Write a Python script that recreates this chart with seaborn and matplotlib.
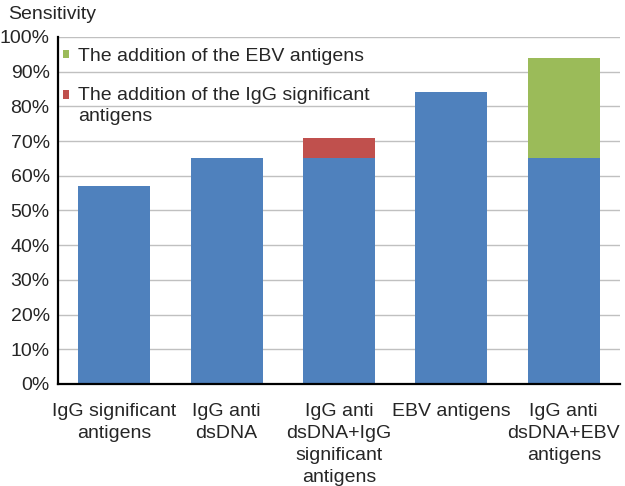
import numpy as np
import pandas as pd
import seaborn as sns
import matplotlib.pyplot as plt
from matplotlib.ticker import PercentFormatter

categories = ['IgG significant\nantigens', 'IgG anti\ndsDNA', 'IgG anti\ndsDNA+IgG\nsignificant\nantigens',
              'EBV antigens', 'IgG anti\ndsDNA+EBV\nantigens']
base_values = [57, 65, 65, 84, 65]
igg_addition = [0, 0, 6, 0, 0]
ebv_addition = [0, 0, 0, 0, 29]
ebv_label = 'The addition of the EBV antigens'
igg_label = 'The addition of the IgG significant\nantigens'

sns.set_style('white')
plt.rcParams['font.family'] = ['Liberation Sans', 'DejaVu Sans']

# totals drawn first, base bars on top -> stacked look
rows = []
for cat, b, i, e in zip(categories, base_values, igg_addition, ebv_addition):
    if e > 0:
        rows.append({'cat': cat, 'total': b + e, 'layer': ebv_label})
    if i > 0:
        rows.append({'cat': cat, 'total': b + i, 'layer': igg_label})
tot = pd.DataFrame(rows)
base = pd.DataFrame({'cat': categories, 'value': base_values})

fig = plt.figure(figsize=(6.25, 4.86), dpi=100)
ax = fig.add_axes([0.0928, 0.21, 0.8992, 0.714])

sns.barplot(data=tot, x='cat', y='total', hue='layer', order=categories,
            hue_order=[ebv_label, igg_label], palette=['#9BBB59', '#C0504D'],
            dodge=False, width=0.64, saturation=1, linewidth=0, ax=ax)
sns.barplot(data=base, x='cat', y='value', order=categories, color='#4F81BD',
            width=0.64, saturation=1, linewidth=0, ax=ax)

ax.set_xlim(-0.5, 4.5)
ax.set_ylim(0, 100)
ax.set_yticks(np.arange(0, 101, 10))
ax.yaxis.set_major_formatter(PercentFormatter(decimals=0))
ax.yaxis.grid(True, color='#C0C0C0', linewidth=1)
ax.set_axisbelow(True)
for s in ['top', 'right']:
    ax.spines[s].set_visible(False)
for s in ['left', 'bottom']:
    ax.spines[s].set_color('black')
    ax.spines[s].set_linewidth(1.6)
ax.tick_params(axis='y', labelsize=14, length=0, pad=6)
ax.tick_params(axis='x', labelsize=14, length=0, pad=13.5)
for lab in ax.get_xticklabels():
    lab.set_linespacing(1.4)
ax.set_xlabel('')
ax.set_ylabel('')

leg = ax.legend(loc='upper left', bbox_to_anchor=(0.009, 0.968), frameon=False, fontsize=14,
                borderpad=0, borderaxespad=0, handlelength=0.31, handleheight=0.31,
                handletextpad=0.47, labelspacing=1.15)
for t in leg.get_texts():
    t.set_linespacing(1.3)
# put the red square level with the first line of its label, like the original
fig.canvas.draw()
h = leg.legend_handles[1]
h.set_y(h.get_y() + 8)

fig.text(0.013, 0.97, 'Sensitivity', fontsize=14, va='center', ha='left')

fig.savefig('out.png', dpi=100)
